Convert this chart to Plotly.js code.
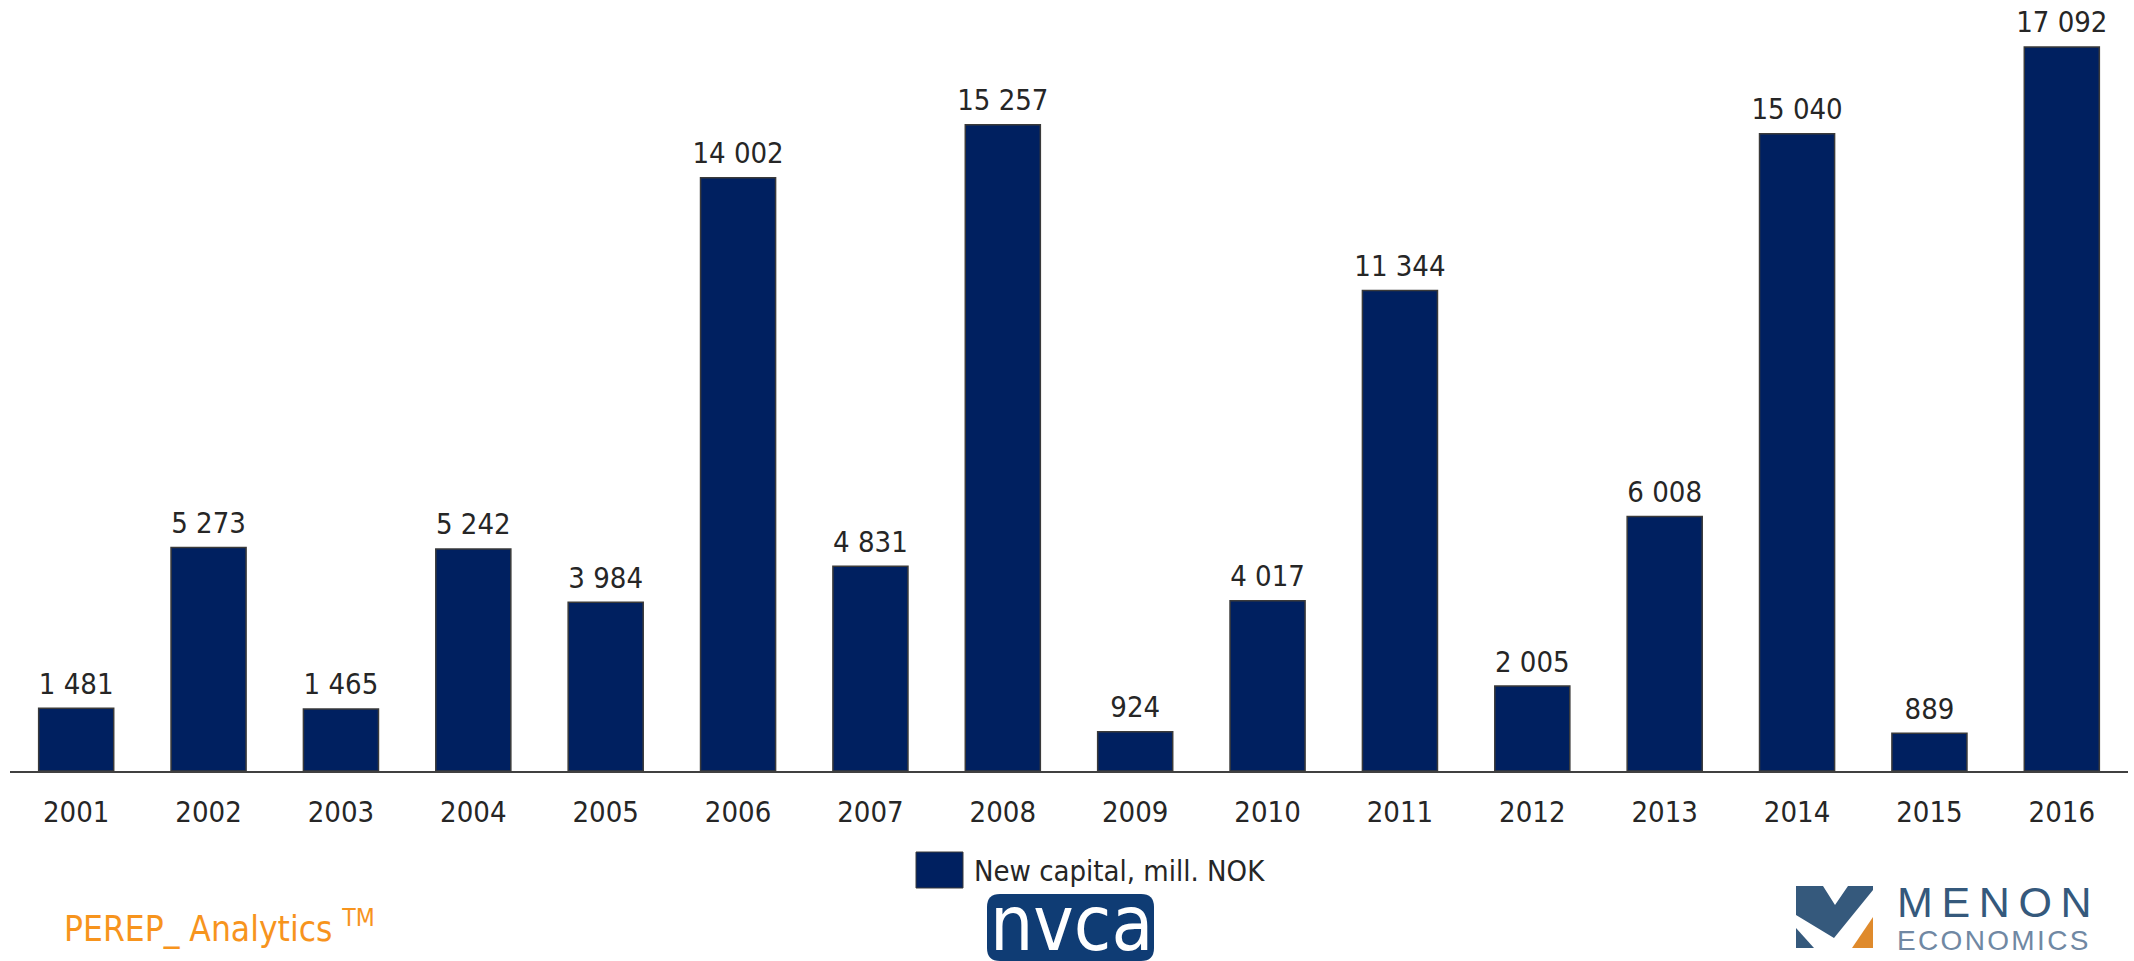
<!DOCTYPE html>
<html>
<head>
<meta charset="utf-8">
<script src="https://cdn.plot.ly/plotly-3.0.1.min.js"></script>
<style>
  html, body { margin: 0; padding: 0; background: #ffffff; }
  #chart { width: 2134px; height: 961px; }
</style>
</head>
<body>
<div id="chart"></div>
<script>
// ---- data ----
const years = ["2001","2002","2003","2004","2005","2006","2007","2008",
               "2009","2010","2011","2012","2013","2014","2015","2016"];
const newCapital = [1481, 5273, 1465, 5242, 3984, 14002, 4831, 15257,
                    924, 4017, 11344, 2005, 6008, 15040, 889, 17092];
const seriesName = "New capital, mill. NOK";
const footerLeft = "PEREP_ Analytics <sup>TM</sup>";

// ---- layout geometry ----
const W = 2134, H = 961;
const M = { l: 10, r: 6, t: 0, b: 190 };
const PW = W - M.l - M.r, PH = H - M.t - M.b;
const X = px => (px - M.l) / PW;
const Y = py => (H - M.b - py) / PH;

const FONT = '"Liberation Sans Narrow", "Arial Narrow", "DejaVu Sans Condensed", sans-serif';
const FS = 29;
const BAR = "#002060";

function poly(pts) {
  return "M" + pts.map(p => X(p[0]) + "," + Y(p[1])).join(" L") + " Z";
}
function rrect(x0, y0, x1, y1, r) {
  return `M${X(x0 + r)},${Y(y0)} L${X(x1 - r)},${Y(y0)} Q${X(x1)},${Y(y0)} ${X(x1)},${Y(y0 + r)} ` +
         `L${X(x1)},${Y(y1 - r)} Q${X(x1)},${Y(y1)} ${X(x1 - r)},${Y(y1)} ` +
         `L${X(x0 + r)},${Y(y1)} Q${X(x0)},${Y(y1)} ${X(x0)},${Y(y1 - r)} ` +
         `L${X(x0)},${Y(y0 + r)} Q${X(x0)},${Y(y0)} ${X(x0 + r)},${Y(y0)} Z`;
}

const traces = [
  {
    type: "bar",
    x: years,
    y: newCapital,
    name: seriesName,
    marker: { color: BAR, line: { color: "#3a3a3a", width: 1.5 } },
    showlegend: false,
    hoverinfo: "x+y"
  },
  {
    type: "scatter",
    mode: "markers+text",
    x: years,
    y: newCapital,
    texttemplate: "%{y:,}",
    textposition: "top center",
    textfont: { family: FONT, size: FS, color: "#262626" },
    marker: { size: 10, opacity: 0, color: BAR },
    showlegend: false,
    hoverinfo: "skip",
    cliponaxis: false
  }
];

const shapes = [
  // legend swatch
  { type: "rect", xref: "paper", yref: "paper",
    x0: X(916), x1: X(963), y0: Y(852), y1: Y(888),
    fillcolor: BAR, line: { color: "#3a3a3a", width: 1 } },
  // nvca logo box
  { type: "path", xref: "paper", yref: "paper",
    path: rrect(987, 894, 1154, 961, 13),
    fillcolor: "#0f3c74", line: { width: 0 } },
  // MENON logo mark
  { type: "path", xref: "paper", yref: "paper",
    path: poly([[1796, 886], [1823, 886], [1835, 905], [1848, 886], [1873, 886],
                [1873, 890], [1834, 938], [1796, 915]]),
    fillcolor: "#35597c", line: { width: 0 } },
  { type: "path", xref: "paper", yref: "paper",
    path: poly([[1796, 928], [1796, 948], [1814, 948]]),
    fillcolor: "#35597c", line: { width: 0 } },
  { type: "path", xref: "paper", yref: "paper",
    path: poly([[1852, 948], [1873, 948], [1873, 917]]),
    fillcolor: "#df8a2c", line: { width: 0 } }
];

const annotations = [
  { xref: "paper", yref: "paper", x: X(972), y: Y(871), xanchor: "left", yanchor: "middle",
    text: seriesName, showarrow: false, font: { family: FONT, size: FS, color: "#262626" } },
  { xref: "paper", yref: "paper", x: X(62), y: Y(926), xanchor: "left", yanchor: "middle",
    text: footerLeft, showarrow: false, font: { family: FONT, size: 35, color: "#f7941d" } },
  { xref: "paper", yref: "paper", x: X(1071), y: Y(923), xanchor: "center", yanchor: "middle",
    text: "nvca", showarrow: false, font: { family: FONT, size: 76, color: "#ffffff" } },
  { xref: "paper", yref: "paper", x: X(1895), y: Y(902), xanchor: "left", yanchor: "middle",
    text: "M\u2009E\u2009N\u2009O\u2009N", showarrow: false,
    font: { family: '"Liberation Sans", sans-serif', size: 43, color: "#35597c" } },
  { xref: "paper", yref: "paper", x: X(1895), y: Y(940), xanchor: "left", yanchor: "middle",
    text: "E\u200AC\u200AO\u200AN\u200AO\u200AM\u200AI\u200AC\u200AS", showarrow: false,
    font: { family: '"Liberation Sans", sans-serif', size: 28, color: "#7088a3" } }
];

const layout = {
  width: W, height: H, autosize: false,
  margin: M,
  paper_bgcolor: "#ffffff",
  plot_bgcolor: "#ffffff",
  separators: ", ",
  bargap: 0.433,
  showlegend: false,
  font: { family: FONT, size: FS, color: "#262626" },
  xaxis: {
    type: "category",
    range: [-0.5, 15.5],
    showline: true, linecolor: "#404040", linewidth: 2,
    showgrid: false, zeroline: false,
    ticks: "", ticklabelstandoff: 14,
    tickfont: { family: FONT, size: FS, color: "#262626" },
    fixedrange: true
  },
  yaxis: {
    range: [0, 18200],
    visible: false,
    showgrid: false, zeroline: false,
    fixedrange: true
  },
  shapes: shapes,
  annotations: annotations
};

Plotly.newPlot("chart", traces, layout, { displayModeBar: false, staticPlot: true });
</script>
</body>
</html>
